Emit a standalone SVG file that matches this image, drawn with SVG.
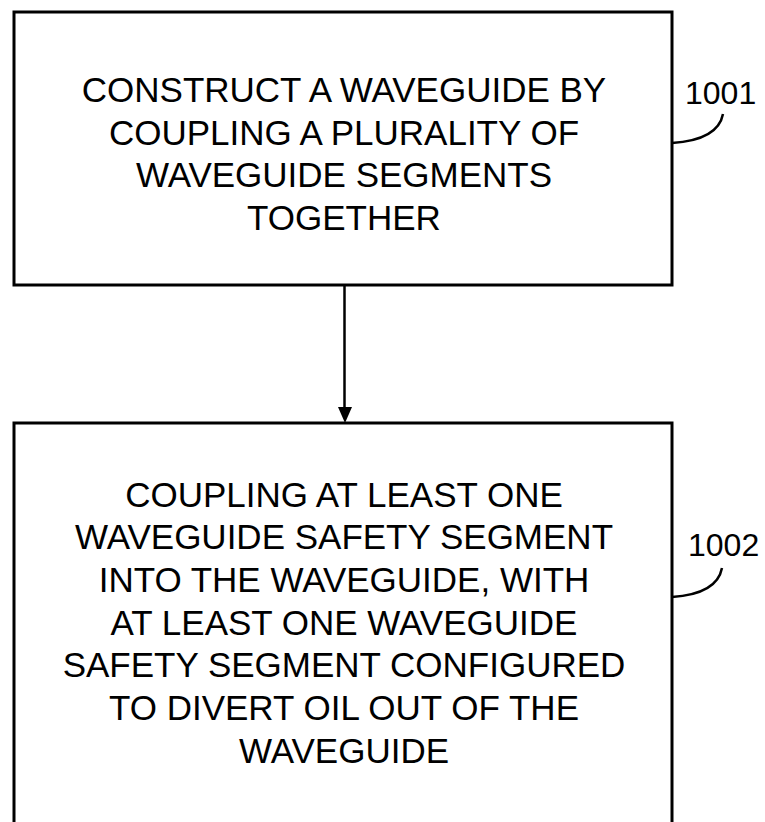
<svg xmlns="http://www.w3.org/2000/svg" width="765" height="822" viewBox="0 0 765 822">
<style>
.box{fill:#fff;stroke:#000;stroke-width:3}
.t{font-family:"Liberation Sans",Arial,sans-serif;font-size:35px;fill:#000;text-anchor:middle}
.ref{font-family:"Liberation Sans",Arial,sans-serif;font-size:32px;fill:#000}
.lead{fill:none;stroke:#000;stroke-width:2.5}
</style>
<rect width="765" height="822" fill="#fff"/>
<g id="node1001">
<rect class="box" x="14" y="12" width="658" height="273"/>
<text class="t" x="344" y="102">CONSTRUCT A WAVEGUIDE BY</text>
<text class="t" x="344" y="145">COUPLING A PLURALITY OF</text>
<text class="t" x="344" y="187">WAVEGUIDE SEGMENTS</text>
<text class="t" x="344" y="230">TOGETHER</text>
<text class="ref" x="685" y="104">1001</text>
<path class="lead" d="M672,143 Q718,140 723,114"/>
</g>
<g id="node1002">
<rect class="box" x="14" y="423" width="658" height="420"/>
<text class="t" x="344" y="507">COUPLING AT LEAST ONE</text>
<text class="t" x="344" y="549">WAVEGUIDE SAFETY SEGMENT</text>
<text class="t" x="344" y="592">INTO THE WAVEGUIDE, WITH</text>
<text class="t" x="344" y="635">AT LEAST ONE WAVEGUIDE</text>
<text class="t" x="344" y="677">SAFETY SEGMENT CONFIGURED</text>
<text class="t" x="344" y="720">TO DIVERT OIL OUT OF THE</text>
<text class="t" x="344" y="763">WAVEGUIDE</text>
<text class="ref" x="688" y="556">1002</text>
<path class="lead" d="M672,597 Q717,594 722,568"/>
</g>
<g id="connectors">
<path d="M344.5,285 L344.5,407" stroke="#000" stroke-width="2.5" fill="none"/>
<path d="M338,407 L352,407 L345,423 Z" fill="#000"/>
</g>
</svg>
